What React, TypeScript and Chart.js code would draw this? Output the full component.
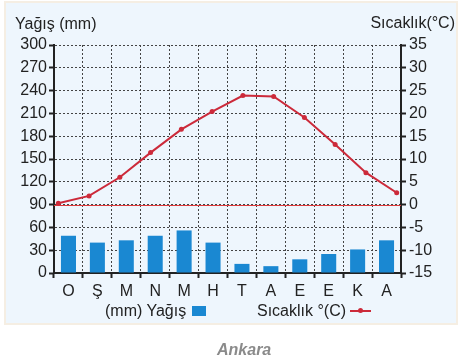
import React, { useEffect, useRef } from "react";
import { Chart, registerables } from "chart.js";

Chart.register(...registerables);

const months = ["O", "Ş", "M", "N", "M", "H", "T", "A", "E", "E", "K", "A"];
const rainfall = [49, 40, 43, 49, 56, 40, 12, 9, 18, 25, 31, 43];
const temperature = [0.3, 1.9, 6.0, 11.4, 16.5, 20.4, 23.9, 23.7, 19.1, 13.2, 7.0, 2.6];
const rainTicks = { min: 0, max: 300, step: 30 };
const tempTicks = { min: -15, max: 35, step: 5 };

const FONT = "'Liberation Sans', Arial, Helvetica, sans-serif";
const BAR_COLOR = "#1a88d2";
const LINE_COLOR = "#cc2a3a";

const zeroLine = {
  id: "zeroLine",
  beforeDatasetsDraw(chart: any) {
    const y2 = chart.scales.y2;
    const { left, right } = chart.chartArea;
    const py = Math.round(y2.getPixelForValue(0)) + 0.5;
    const ctx = chart.ctx;
    ctx.save();
    ctx.strokeStyle = "#e03a3a";
    ctx.lineWidth = 1;
    ctx.beginPath();
    ctx.moveTo(left, py);
    ctx.lineTo(right, py);
    ctx.stroke();
    ctx.restore();
  },
};

export default function App() {
  const ref = useRef<HTMLCanvasElement>(null);
  useEffect(() => {
    if (!ref.current) return;
    const chart = new Chart(ref.current, {
      type: "bar",
      data: {
        labels: months,
        datasets: [
          {
            type: "line",
            label: "Sıcaklık °(C)",
            data: temperature.map((t, i) => ({ x: i, y: t })),
            xAxisID: "xl",
            yAxisID: "y2",
            borderColor: LINE_COLOR,
            backgroundColor: LINE_COLOR,
            borderWidth: 2,
            pointRadius: 2.5,
            pointBorderWidth: 0,
            tension: 0,
            order: 0,
          } as any,
          {
            type: "bar",
            label: "(mm) Yağış",
            data: rainfall,
            xAxisID: "x",
            yAxisID: "y",
            backgroundColor: BAR_COLOR,
            barPercentage: 0.52,
            categoryPercentage: 1,
            grouped: false,
            order: 1,
          },
        ],
      },
      options: {
        responsive: false,
        animation: false,
        devicePixelRatio: 1,
        layout: { padding: { top: 45, left: 0, right: 0, bottom: 0 } },
        plugins: { legend: { display: false }, tooltip: { enabled: false } },
        scales: {
          x: {
            type: "category",
            position: "bottom",
            offset: true,
            afterFit: (s: any) => {
              s.height = 89;
            },
            grid: {
              offset: true,
              color: "#444",
              lineWidth: 1,
              drawTicks: true,
              tickLength: 5,
              tickColor: "#222",
              tickWidth: 2,
              tickBorderDash: [],
            },
            border: { display: true, color: "#222", width: 2, dash: [2, 2] },
            ticks: {
              color: "#222",
              font: { family: FONT, size: 16 },
              padding: 4,
              maxRotation: 0,
              autoSkip: false,
            },
          },
          xl: {
            type: "linear",
            display: false,
            offset: false,
            min: -0.14,
            max: 11.14,
          },
          y: {
            type: "linear",
            position: "left",
            min: rainTicks.min,
            max: rainTicks.max,
            afterFit: (s: any) => {
              s.width = 54;
            },
            grid: {
              color: "#444",
              lineWidth: 1,
              drawTicks: true,
              tickLength: 5,
              tickColor: "#222",
              tickWidth: 2,
              tickBorderDash: [],
            },
            border: { display: true, color: "#222", width: 2, dash: [2, 2] },
            ticks: {
              stepSize: rainTicks.step,
              color: "#222",
              font: { family: FONT, size: 16 },
              padding: 2,
            },
          },
          y2: {
            type: "linear",
            position: "right",
            min: tempTicks.min,
            max: tempTicks.max,
            afterFit: (s: any) => {
              s.width = 61;
            },
            grid: {
              drawOnChartArea: false,
              drawTicks: true,
              tickLength: 5,
              tickColor: "#222",
              tickWidth: 2,
              tickBorderDash: [],
            },
            border: { display: true, color: "#222", width: 2 },
            ticks: {
              stepSize: tempTicks.step,
              color: "#222",
              font: { family: FONT, size: 16 },
              padding: 3,
            },
          },
        },
      } as any,
      plugins: [zeroLine],
    });
    return () => chart.destroy();
  }, []);

  const text: React.CSSProperties = {
    position: "absolute",
    fontFamily: FONT,
    fontSize: 16,
    lineHeight: "16px",
    color: "#222",
    whiteSpace: "nowrap",
  };

  return (
    <div style={{ position: "absolute", left: 0, top: 0, width: 462, height: 362, background: "#fff", overflow: "hidden" }}>
      <div
        style={{
          position: "absolute",
          left: 6,
          top: 3,
          width: 450,
          height: 320,
          background: "#eef6fd",
          boxShadow: "0 0 0 2px #f5eee3",
        }}
      />
      <canvas ref={ref} width={462} height={362} style={{ position: "absolute", left: 0, top: 0, width: 462, height: 362 }} />
      <div style={{ ...text, left: 15, top: 16 }}>Yağış (mm)</div>
      <div style={{ ...text, right: 7, top: 15 }}>Sıcaklık(°C)</div>
      <div style={{ ...text, left: 105, top: 303, display: "flex", alignItems: "center" }}>
        <span>(mm) Yağış</span>
        <span style={{ display: "inline-block", width: 14, height: 10, background: BAR_COLOR, marginLeft: 6 }} />
      </div>
      <div style={{ ...text, left: 257, top: 303, display: "flex", alignItems: "center" }}>
        <span>Sıcaklık °(C)</span>
        <span style={{ position: "relative", display: "inline-block", width: 21, height: 10, marginLeft: 4 }}>
          <span style={{ position: "absolute", left: 0, top: 4, width: 21, height: 2, background: LINE_COLOR }} />
          <span style={{ position: "absolute", left: 8, top: 2, width: 5, height: 5, borderRadius: 3, background: LINE_COLOR }} />
        </span>
      </div>
      <div
        style={{
          ...text,
          left: 217,
          top: 342,
          fontWeight: "bold",
          fontStyle: "italic",
          color: "#8a8a8a",
        }}
      >
        Ankara
      </div>
    </div>
  );
}
